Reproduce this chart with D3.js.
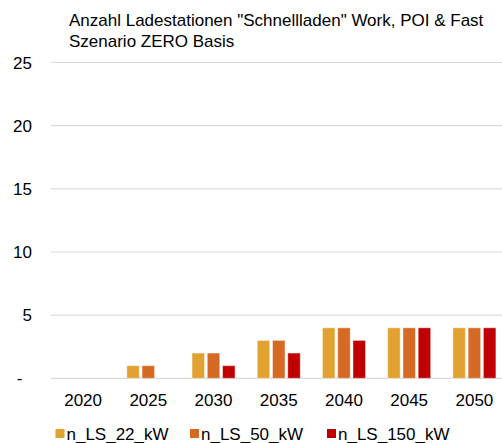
<!DOCTYPE html>
<html>
<head>
<meta charset="utf-8">
<script src="https://cdn.jsdelivr.net/npm/d3@7"></script>
<style>
  body { margin: 0; background: #fff; }
  svg text { font-family: "Liberation Sans", Arial, sans-serif; fill: #000; }
</style>
</head>
<body>
<svg width="502" height="443"></svg>
<script>
var years = ['2020', '2025', '2030', '2035', '2040', '2045', '2050'];
var seriesNames = ['n_LS_22_kW', 'n_LS_50_kW', 'n_LS_150_kW'];
var ls22 = [0, 1, 2, 3, 4, 4, 4];
var ls50 = [0, 1, 2, 3, 4, 4, 4];
var ls150 = [0, 0, 1, 2, 3, 4, 4];
var yTicks = [0, 5, 10, 15, 20, 25];
var colors = ['#E1A232', '#D56A25', '#C00000'];

var svg = d3.select('svg');

var scaleX = d3.scaleBand().domain(years).range([50.5, 507]).paddingInner(0).paddingOuter(0);
var scaleY = d3.scaleLinear().domain([0, 25]).range([378.3, 62.5]);
var scaleS = d3.scaleBand().domain(seriesNames).range([0, scaleX.bandwidth() * 0.66])
  .paddingInner(0.18);

var allSeries = [ls22, ls50, ls150];

// gridlines
svg.append('g')
  .selectAll('line')
  .data(yTicks)
  .enter()
  .append('line')
  .attr('x1', 51)
  .attr('x2', 502)
  .attr('y1', function(d){ return scaleY(d); })
  .attr('y2', function(d){ return scaleY(d); })
  .attr('stroke', '#d9d9d9')
  .attr('stroke-width', 1.2);

// y labels
svg.append('g')
  .selectAll('text')
  .data(yTicks)
  .enter()
  .append('text')
  .attr('x', function(d){ return d == 0 ? 22.5 : 32; })
  .attr('y', function(d){ return scaleY(d) + 6; })
  .attr('text-anchor', 'end')
  .attr('font-size', 17)
  .text(function(d){ return d == 0 ? '-' : d; });

// bars
var groupOffset = (scaleX.bandwidth() - scaleX.bandwidth() * 0.66) / 2;
allSeries.forEach(function(vals, i){
  svg.append('g')
    .selectAll('rect')
    .data(vals)
    .enter()
    .append('rect')
    .attr('x', function(d, j){ return scaleX(years[j]) + groupOffset + scaleS(seriesNames[i]); })
    .attr('y', function(d){ return scaleY(d); })
    .attr('width', scaleS.bandwidth())
    .attr('height', function(d){ return scaleY(0) - scaleY(d); })
    .attr('fill', colors[i])
    .attr('stroke', '#fff')
    .attr('stroke-opacity', 0.45)
    .attr('stroke-width', function(d){ return d > 0 ? 1 : 0; });
});

// x labels
svg.append('g')
  .selectAll('text')
  .data(years)
  .enter()
  .append('text')
  .attr('x', function(d){ return scaleX(d) + scaleX.bandwidth() / 2; })
  .attr('y', 406)
  .attr('text-anchor', 'middle')
  .attr('font-size', 17)
  .text(function(d){ return d; });

// title
svg.append('text')
  .attr('x', 69)
  .attr('y', 25.5)
  .attr('font-size', 17)
  .text('Anzahl Ladestationen "Schnellladen" Work, POI & Fast');

svg.append('text')
  .attr('x', 69)
  .attr('y', 46.5)
  .attr('font-size', 17)
  .text('Szenario ZERO Basis');

// legend
var legendX = [55.5, 190, 327];
var legend = svg.append('g')
  .selectAll('g')
  .data(seriesNames)
  .enter()
  .append('g')
  .attr('transform', function(d, i){ return 'translate(' + legendX[i] + ',429)'; });

legend.append('rect')
  .attr('width', 9)
  .attr('height', 9)
  .attr('fill', function(d, i){ return colors[i]; });

legend.append('text')
  .attr('x', 11)
  .attr('y', 11)
  .attr('font-size', 17)
  .text(function(d){ return d; });
</script>
</body>
</html>
